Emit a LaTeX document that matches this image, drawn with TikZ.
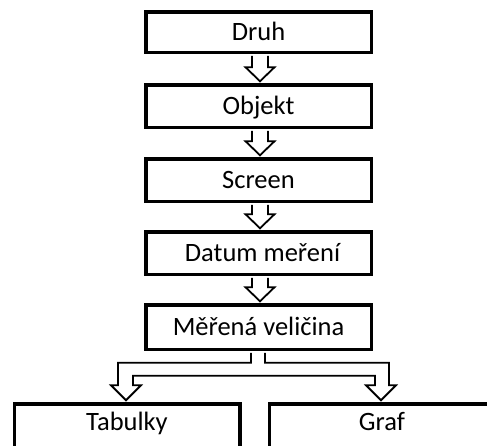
\documentclass[tikz,border=0pt]{standalone}
\usepackage{fontspec}
\setmainfont{Carlito}
\usetikzlibrary{calc}
\newcommand\blkarrow[2]{%
\draw[blkarr] let \p1=(#1.south), \p2=(#2.north) in
 (\x1-6.5pt,\y1-1.75pt) -- (\x1-6.5pt,\y2+15.75pt) -- (\x1-13pt,\y2+15.75pt) -- (\x1+1.5pt,\y2+1.75pt) -- (\x1+16pt,\y2+15.75pt) -- (\x1+9.5pt,\y2+15.75pt) -- (\x1+9.5pt,\y1-1.75pt);}
\begin{document}
\begin{tikzpicture}[x=1pt,y=-1pt,
 box/.style={draw=black, line width=3.5pt, fill=white, inner sep=0pt,
   minimum width=225.5pt, minimum height=42.5pt, text height=16.7pt, text depth=0pt,
   font=\fontsize{26.5}{31}\selectfont},
 lowbox/.style={box, minimum height=48.5pt, text depth=11.7pt},
 blkarr/.style={draw=black, line width=1.8pt, fill=white, line join=miter}]
\path[use as bounding box, fill=white] (0,0) rectangle (487,445);
\clip (0,0) rectangle (487,445);
\node[box, minimum height=40.5pt] (druh) at (258.5,32) {Druh};
\node[box] (obj) at (258.5,106) {Objekt};
\node[box] (scr) at (258.5,180) {Screen};
\node[box] (dat) at (258.5,253) {\hspace*{8pt}Datum meření};
\node[box, minimum height=44.5pt] (mv) at (258.5,327) {Měřená veličina};
\node[lowbox] (tab) at (127,428) {Tabulky};
\node[lowbox] (graf) at (382,428) {Graf};
\blkarrow{druh}{obj}
\blkarrow{obj}{scr}
\blkarrow{scr}{dat}
\blkarrow{dat}{mv}
\draw[blkarr] let \p1=(mv.south), \p2=(tab.north), \p3=(graf.north) in
 (\x1-7.5pt,\y1-1.75pt) -- (\x1-7.5pt,\y1-11.75pt) -- (\x2-9pt,\y1-11.75pt) -- (\x2-9pt,\y2+16.75pt)
 -- (\x2-16pt,\y2+16.75pt) -- (\x2-1pt,\y2+1.75pt) -- (\x2+14pt,\y2+16.75pt) -- (\x2+6pt,\y2+16.75pt)
 -- (\x2+6pt,\y1-24.75pt) -- (\x3-7pt,\y1-24.75pt) -- (\x3-7pt,\y2+16.75pt) -- (\x3-16pt,\y2+16.75pt)
 -- (\x3-1pt,\y2+1.75pt) -- (\x3+14pt,\y2+16.75pt) -- (\x3+7pt,\y2+16.75pt) -- (\x3+7pt,\y1-11.75pt)
 -- (\x1+6.5pt,\y1-11.75pt) -- (\x1+6.5pt,\y1-1.75pt);
\end{tikzpicture}
\end{document}
